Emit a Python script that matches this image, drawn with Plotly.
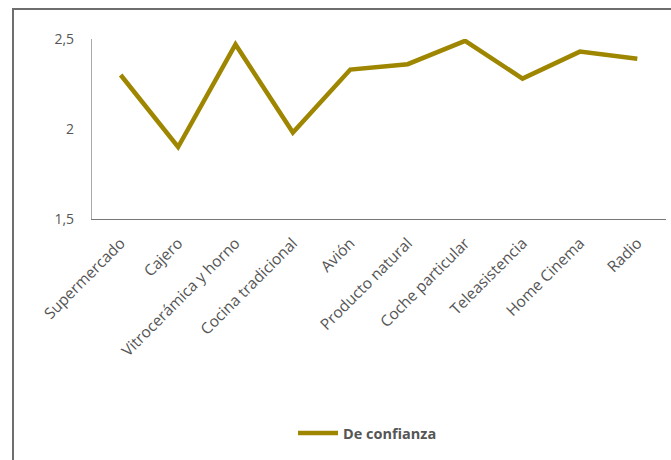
import plotly.graph_objects as go

categorias = ["Supermercado", "Cajero", "Vitrocerámica y horno", "Cocina tradicional",
              "Avión", "Producto natural", "Coche particular", "Teleasistencia",
              "Home Cinema", "Radio"]
de_confianza = [2.30, 1.90, 2.47, 1.98, 2.33, 2.36, 2.49, 2.28, 2.43, 2.39]
y_ticks = [1.5, 2, 2.5]

W, H = 671, 460
L, R, T, B = 92, 5, 39, 241
pw, ph = W - L - R, H - T - B

def px_to_paper_x(px):
    return (px - L) / pw

def px_to_paper_y(py):
    return (H - B - py) / ph

fig = go.Figure()
fig.add_trace(go.Scatter(
    x=categorias, y=de_confianza, mode="lines", name="<b>De confianza</b>",
    line=dict(color="#9E8600", width=4.5), cliponaxis=False,
))

grey = "#555555"
frame = dict(color="#6e6e6e", width=2)
fig.update_layout(
    width=W, height=H,
    margin=dict(l=L, r=R, t=T, b=B),
    paper_bgcolor="white", plot_bgcolor="white",
    separators=",.",
    font=dict(family="Open Sans", color=grey, size=13),
    showlegend=True,
    legend=dict(orientation="h", x=0.48, xanchor="center",
                y=px_to_paper_y(433), yanchor="middle",
                font=dict(size=14.5, color=grey, family="Open Sans"),
                itemwidth=40),
    xaxis=dict(type="category", range=[-0.5, len(categorias) - 0.5],
               showgrid=False, zeroline=False,
               showline=True, linecolor="#777777", linewidth=1.2,
               ticks="", tickangle=-45, ticklabelstandoff=8,
               tickfont=dict(size=15.5, color=grey)),
    yaxis=dict(range=[1.5, 2.5], tickvals=y_ticks, showgrid=False, zeroline=False,
               showline=True, linecolor="#aaaaaa", linewidth=1.2,
               ticks="", ticklabelstandoff=14, tickfont=dict(size=14, color=grey)),
)

# outer frame drawn as an open path: down the left edge, then across the top
x_left, x_right = px_to_paper_x(13), px_to_paper_x(671)
y_top, y_bottom = px_to_paper_y(9), px_to_paper_y(465)
fig.add_shape(type="path", xref="paper", yref="paper",
              path=f"M {x_left},{y_bottom} L {x_left},{y_top} L {x_right},{y_top}",
              line=frame)

fig.write_html("out.html", config={"displayModeBar": False})
